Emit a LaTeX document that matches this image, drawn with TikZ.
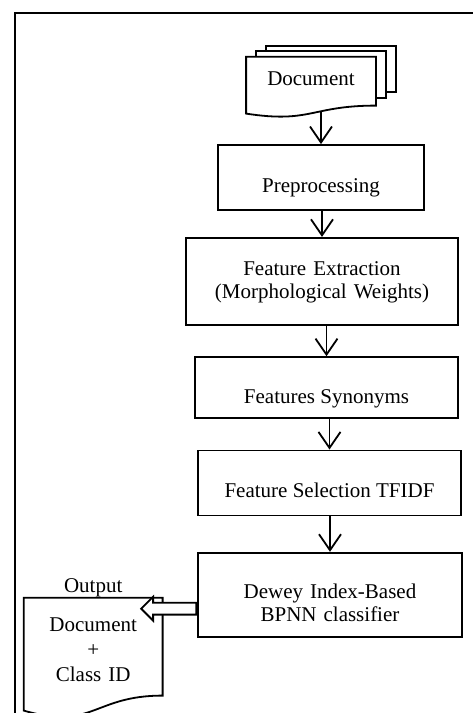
\documentclass[tikz,border=0pt]{standalone}
\usepackage{fontspec}
\setmainfont{Liberation Serif}
\usetikzlibrary{arrows.meta,positioning,calc,shapes.arrows,backgrounds}
\tikzstyle{procbox} = [rectangle, draw, inner ysep=0pt, text height=47pt, text depth=17pt]
\tikzstyle{widebox} = [procbox, inner xsep=0pt, align=center]
\tikzstyle{docbox} = [rectangle, inner sep=0pt, align=center, font=\fontsize{21}{25}\selectfont]
\tikzstyle{sheet} = [draw, fill=white, line width=1.8pt]
\tikzstyle{arrow} = [-{Straight Barb[length=16pt,width=22pt]}]
\tikzstyle{hollowarrow} = [single arrow, draw, fill=white, inner sep=5pt,
single arrow head extend=6pt, minimum height=55pt, shape border rotate=180]

\begin{document}
\begin{tikzpicture}[x=1pt, y=-1pt, line width=1.8pt, font=\fontsize{21}{23}\selectfont]
  \useasboundingbox (0,0) rectangle (473,713);
  \draw (473,13) -- (15,13) -- (15,713);

  \node (prep) [procbox, minimum width=206pt, text depth=18pt] at (321,177.5) {Preprocessing};
  \node (doc) [rectangle, minimum width=128pt, inner ysep=0pt, text height=28pt,
    text depth=19pt, above=38.5pt of prep, xshift=-10pt] {Document};
  \node (fe) [widebox, text width=272pt, text height=38pt, text depth=49pt,
    below=26pt of prep, xshift=1pt] {Feature Extraction\\(Morphological Weights)};
  \node (syn) [procbox, minimum width=263pt, text height=46pt, text depth=15pt,
    below=30.5pt of fe, xshift=4.5pt] {Features Synonyms};
  \node (sel) [procbox, minimum width=263pt, text depth=18pt,
    below=30.5pt of syn, xshift=3pt] {Feature Selection TFIDF};
  \node (dewey) [widebox, text width=264pt, text height=46pt, text depth=38pt,
    below=35.5pt of sel, xshift=0.5pt] {Dewey Index-Based\\BPNN classifier};
  \node (outdoc) [docbox, text width=137pt, text height=33pt, text depth=63pt,
    left=34.5pt of dewey, yshift=-52pt, label distance=10pt,
    label={[inner sep=0pt]above:Output}] {Document\\+\\Class ID};

  % stacked input pages
  \begin{scope}[on background layer]
    \path[sheet] ($(doc.north west)+(20,-11)$) rectangle ($(doc.north east)+(20,35)$);
    \path[sheet] ($(doc.north west)+(10,-6)$) rectangle ($(doc.north east)+(10,41)$);
    \path[sheet] (doc.north west) -- (doc.north east) -- (doc.south east)
      .. controls (doc.south) and ($(doc.south)+(0,18)$) .. ($(doc.south west)+(0,8)$) -- cycle;
  \end{scope}

  \coordinate (doctail) at ($(doc.south)+(10,6)$);
  \draw[arrow] (doctail) -- (doctail |- prep.north);
  \draw[arrow] (prep.south -| fe.north) -- (fe.north);
  \draw[arrow] (fe.south -| syn.north) -- (syn.north);
  \draw[arrow] (syn.south -| sel.north) -- (sel.north);
  \draw[arrow] (sel.south -| dewey.north) -- (dewey.north);

  % output page
  \draw (outdoc.north west) -- (outdoc.north east) -- (outdoc.south east)
    .. controls (outdoc.south) and ($(outdoc.south)+(0,35)$) .. ($(outdoc.south west)+(0,15)$) -- cycle;
  \node (outarrow) [hollowarrow, anchor=tail] at ($(dewey.west)+(0,14)$) {};
\end{tikzpicture}
\end{document}
